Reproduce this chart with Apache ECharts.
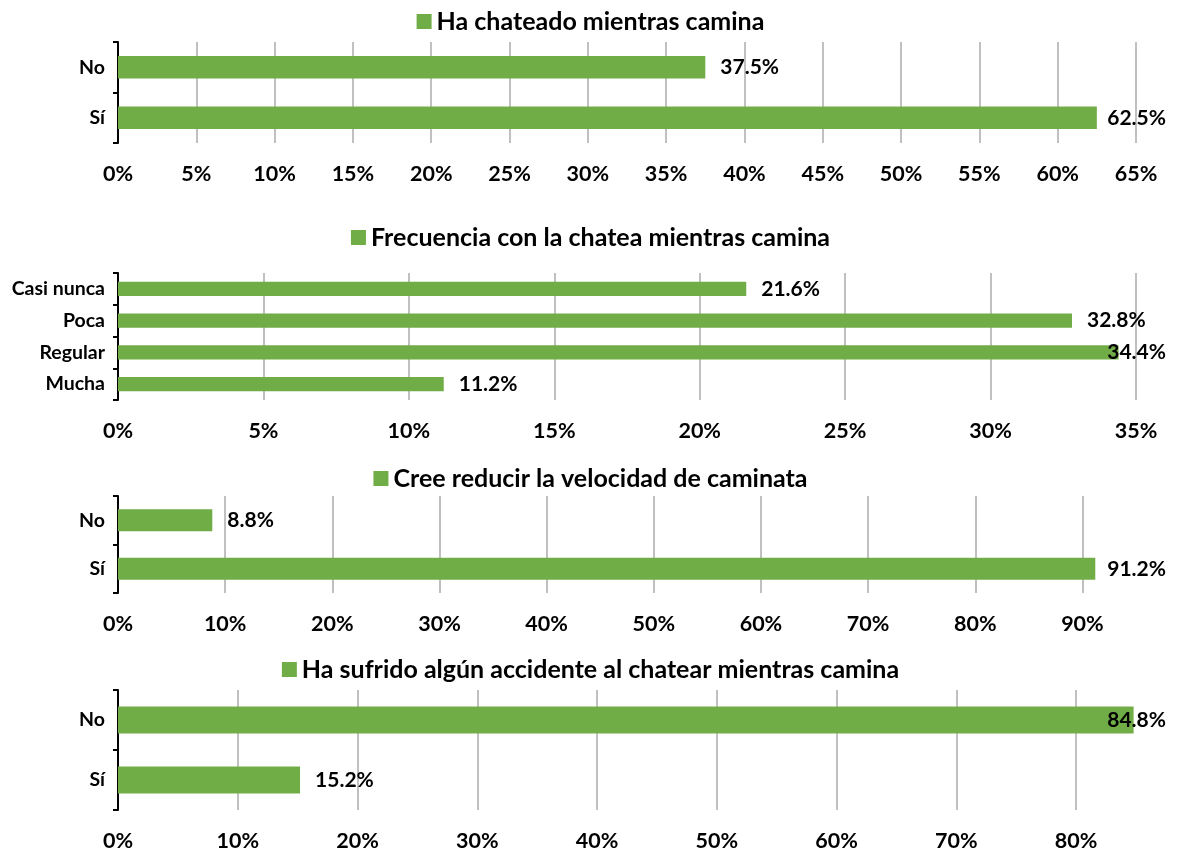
<!DOCTYPE html>
<html>
<head>
<meta charset="utf-8">
<script src="https://cdn.jsdelivr.net/npm/echarts@6/dist/echarts.min.js"></script>
<style>
html,body{margin:0;padding:0;background:#fff;}
#chart{width:1181px;height:852px;}
</style>
</head>
<body>
<div id="chart"></div>
<script>
// ---- Data ----
var titles = [
  'Ha chateado mientras camina',
  'Frecuencia con la chatea mientras camina',
  'Cree reducir la velocidad de caminata',
  'Ha sufrido algún accidente al chatear mientras camina'
];
var cats1 = ['No', 'Sí'];
var vals1 = [37.5, 62.5];
var cats2 = ['Casi nunca', 'Poca', 'Regular', 'Mucha'];
var vals2 = [21.6, 32.8, 34.4, 11.2];
var cats3 = ['No', 'Sí'];
var vals3 = [8.8, 91.2];
var cats4 = ['No', 'Sí'];
var vals4 = [84.8, 15.2];
var axisMax = [65, 35, 95, 85];
var axisInterval = [5, 5, 10, 10];

// ---- Layout ----
var FONT = 'Lato, "Open Sans", sans-serif';
var GREEN = '#70ad47';
var grids = [
  {top: 42, height: 101},
  {top: 273, height: 127},
  {top: 496, height: 97},
  {top: 690, height: 120}
];
var legendTops = [4, 220, 461, 652];
var cats = [cats1, cats2, cats3, cats4];
var vals = [vals1, vals2, vals3, vals4];
var LIMIT = 1166;

var option = {
  backgroundColor: '#fff',
  animation: false,
  textStyle: {fontFamily: FONT},
  legend: [], grid: [], xAxis: [], yAxis: [], series: []
};

for (var i = 0; i < 4; i++) {
  var evenMax = axisMax[i] % axisInterval[i] === 0;
  option.grid.push({left: 118, right: 45, top: grids[i].top, height: grids[i].height});
  option.legend.push({
    data: [titles[i]], left: 'center', top: legendTops[i],
    icon: 'rect', itemWidth: 15, itemHeight: 15, itemGap: 8,
    textStyle: {fontFamily: FONT, fontWeight: 'bold', fontSize: 25, color: '#000'},
    selectedMode: false
  });
  option.xAxis.push({
    type: 'value', gridIndex: i, min: 0, max: axisMax[i], interval: axisInterval[i],
    axisLine: {show: false}, axisTick: {show: false},
    axisLabel: {formatter: '{value}%', fontFamily: FONT, fontWeight: 'bold', fontSize: 21.5,
      color: '#000', margin: 20, showMaxLabel: evenMax},
    splitLine: {show: true, showMaxLine: evenMax, lineStyle: {color: '#ababab', width: 1.5}}
  });
  option.yAxis.push({
    type: 'category', gridIndex: i, data: cats[i], inverse: true,
    axisLine: {show: true, lineStyle: {color: '#000', width: 2}},
    axisTick: {show: true, length: 5, lineStyle: {color: '#000', width: 2}},
    axisLabel: {fontFamily: FONT, fontWeight: 'bold', fontSize: 19.5, color: '#000', margin: 13},
    splitLine: {show: false}
  });
  option.series.push({
    type: 'bar', name: titles[i], xAxisIndex: i, yAxisIndex: i,
    data: vals[i], barWidth: '45%',
    itemStyle: {color: GREEN},
    label: {
      show: true, position: 'right', distance: 15,
      fontFamily: FONT, fontWeight: 'bold', fontSize: 21, color: '#000',
      formatter: function (p) { return p.value.toFixed(1) + '%'; }
    },
    labelLayout: function (p) {
      var r = p.labelRect;
      if (r.x + r.width > LIMIT) return {dx: LIMIT - (r.x + r.width)};
      return {};
    }
  });
}

var chart = echarts.init(document.getElementById('chart'), null, {renderer: 'canvas'});
chart.setOption(option);
</script>
</body>
</html>
